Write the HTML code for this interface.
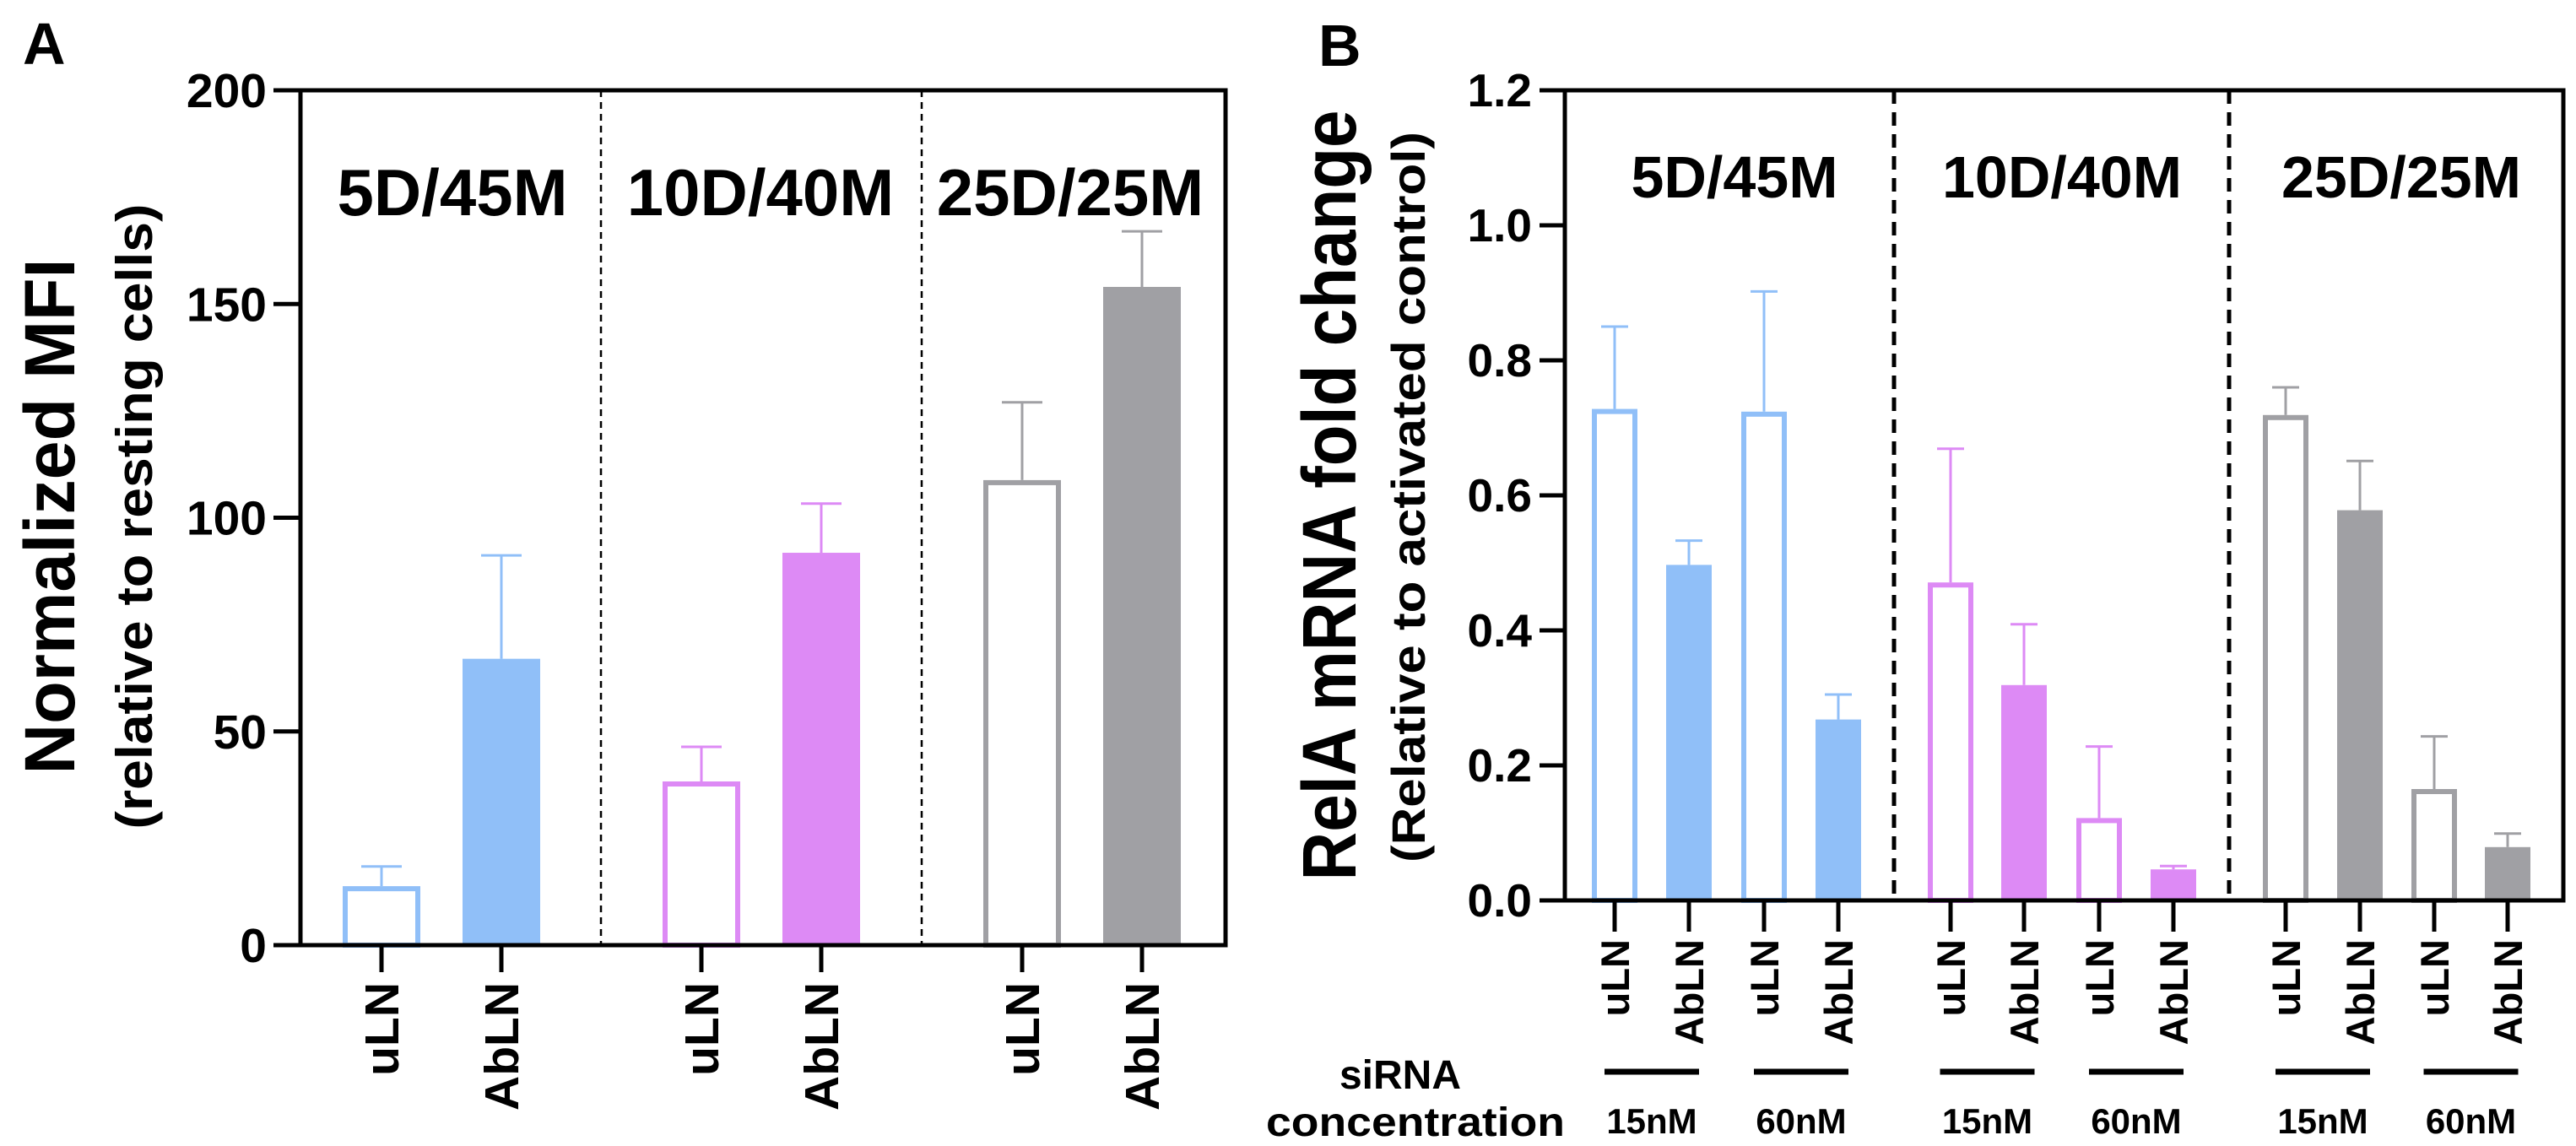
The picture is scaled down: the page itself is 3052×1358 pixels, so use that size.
<!DOCTYPE html>
<html><head><meta charset="utf-8">
<style>html,body{margin:0;padding:0;background:#fff}svg{display:block}text{font-family:"Liberation Sans",Arial,sans-serif;font-weight:bold;fill:#000}</style>
</head><body>
<svg id="fig" width="3052" height="1358" viewBox="0 0 3052 1358" xmlns="http://www.w3.org/2000/svg">
<g id="pa"></g>
<g id="pb"></g>
</svg>
<script>
// Panel A data
const aCats = ["uLN","AbLN","uLN","AbLN","uLN","AbLN"];
const aVals = [13.8, 67, 38.3, 91.8, 108.8, 154];
const aErr  = [18.4, 91.2, 46.4, 103.3, 127, 167];
const aFill = [false,true,false,true,false,true];
const aGroupIdx = [0,0,1,1,2,2];
const aTicks = [0,50,100,150,200];
const aGroups = ["5D/45M","10D/40M","25D/25M"];
// Panel B data
const bCats = ["uLN","AbLN","uLN","AbLN","uLN","AbLN","uLN","AbLN","uLN","AbLN","uLN","AbLN"];
const bVals = [0.728,0.497,0.724,0.268,0.471,0.319,0.122,0.046,0.719,0.578,0.165,0.079];
const bErr  = [0.850,0.533,0.902,0.305,0.669,0.409,0.228,0.051,0.760,0.651,0.243,0.099];
const bFill = [false,true,false,true,false,true,false,true,false,true,false,true];
const bGroupIdx = [0,0,0,0,1,1,1,1,2,2,2,2];
const bTicks = [0,0.2,0.4,0.6,0.8,1.0,1.2];
const bTickLabels = ["0.0","0.2","0.4","0.6","0.8","1.0","1.2"];
const bGroups = ["5D/45M","10D/40M","25D/25M"];
const bConc = ["15nM","60nM","15nM","60nM","15nM","60nM"];

const colors = ["#90bff8","#dd8af5","#a0a0a4"];
const NS = "http://www.w3.org/2000/svg";
function el(parent, tag, attrs, txt){const e=document.createElementNS(NS,tag);for(const k in attrs)e.setAttribute(k,attrs[k]);if(txt!==undefined)e.textContent=txt;parent.appendChild(e);return e;}

// ---------- Panel A ----------
(function(){
const g=document.getElementById('pa');
const L=356,R=1452,T=107,B=1120, ymax=200;
const y=v=>B-(v/ymax)*(B-T);
const centers=[452,594,831,973,1211,1353]; // band positions
const bw=92;
let t=el(g,'text',{x:27,y:76,'font-size':70});t.textContent='A';

// y title
t=el(g,'text',{transform:'translate(88,612) rotate(-90)','text-anchor':'middle','font-size':84,textLength:611,lengthAdjust:'spacingAndGlyphs'},'Normalized MFI');

t=el(g,'text',{transform:'translate(180,612) rotate(-90)','text-anchor':'middle','font-size':60,textLength:741,lengthAdjust:'spacingAndGlyphs'},'(relative to resting cells)');

aTicks.forEach(v=>{
  const l=el(g,'line',{x1:324,x2:L,y1:y(v),y2:y(v),stroke:'#000','stroke-width':5});
  
  const tx=el(g,'text',{x:316,y:y(v)+20,'text-anchor':'end','font-size':57},String(v));
  
});
[712,1092].forEach(x=>{const d=el(g,'line',{x1:x,x2:x,y1:T,y2:B,stroke:'#000','stroke-width':2.5,'stroke-dasharray':'8,6'});
});
const gc=[536,901,1268];
aGroups.forEach((s,i)=>{const tx=el(g,'text',{x:gc[i],y:255,'text-anchor':'middle','font-size':78},s);
});
aVals.forEach((v,i)=>{
  const c=colors[aGroupIdx[i]], x=centers[i];
  const e=el(g,'line',{x1:x,x2:x,y1:y(aErr[i]),y2:y(v),stroke:c,'stroke-width':3});
  
  const cap=el(g,'line',{x1:x-24,x2:x+24,y1:y(aErr[i]),y2:y(aErr[i]),stroke:c,'stroke-width':3});
  
  let r;
  if(aFill[i]) r=el(g,'rect',{x:x-bw/2,y:y(v),width:bw,height:B-y(v),fill:c});
  else r=el(g,'rect',{x:x-bw/2+3,y:y(v)+3,width:bw-6,height:B-y(v)-3,fill:'#fff',stroke:c,'stroke-width':6});
  
  const tk=el(g,'line',{x1:x,x2:x,y1:B,y2:1152,stroke:'#000','stroke-width':5});
  
  const lb=el(g,'text',{transform:`translate(${x+20},1164) rotate(-90)`,'text-anchor':'end','font-size':57},aCats[i]);
  
});
const fr=el(g,'rect',{x:L,y:T,width:R-L,height:B-T,fill:'none',stroke:'#000','stroke-width':5});

})();

// ---------- Panel B ----------
(function(){
const g=document.getElementById('pb');
const L=1854,R=3037,T=107,B=1067, ymax=1.2;
const y=v=>B-(v/ymax)*(B-T);
const centers=[1913,2001,2090,2178,2311,2398,2487,2575,2708,2796,2884,2971];
const bw=54;
let t=el(g,'text',{x:1562,y:78,'font-size':70});t.textContent='B';

t=el(g,'text',{transform:'translate(1606,587) rotate(-90)','text-anchor':'middle','font-size':90,textLength:913,lengthAdjust:'spacingAndGlyphs'},'RelA mRNA fold change');

t=el(g,'text',{transform:'translate(1688,589) rotate(-90)','text-anchor':'middle','font-size':56,textLength:866,lengthAdjust:'spacingAndGlyphs'},'(Relative to activated control)');

bTicks.forEach((v,i)=>{
  const l=el(g,'line',{x1:1824,x2:L,y1:y(v),y2:y(v),stroke:'#000','stroke-width':5});
  
  const tx=el(g,'text',{x:1815,y:y(v)+19,'text-anchor':'end','font-size':55},bTickLabels[i]);
  
});
[2244,2641].forEach(x=>{const d=el(g,'line',{x1:x,x2:x,y1:T,y2:B,stroke:'#000','stroke-width':5,'stroke-dasharray':'16,10'});
});
const gc=[2055,2443,2845];
bGroups.forEach((s,i)=>{const tx=el(g,'text',{x:gc[i],y:234,'text-anchor':'middle','font-size':70},s);
});
bVals.forEach((v,i)=>{
  const c=colors[bGroupIdx[i]], x=centers[i];
  const e=el(g,'line',{x1:x,x2:x,y1:y(bErr[i]),y2:y(v),stroke:c,'stroke-width':3});
  
  const cap=el(g,'line',{x1:x-16,x2:x+16,y1:y(bErr[i]),y2:y(bErr[i]),stroke:c,'stroke-width':3});
  
  let r;
  if(bFill[i]) r=el(g,'rect',{x:x-bw/2,y:y(v),width:bw,height:B-y(v),fill:c});
  else r=el(g,'rect',{x:x-bw/2+3,y:y(v)+3,width:bw-6,height:B-y(v)-3,fill:'#fff',stroke:c,'stroke-width':6});
  
  const tk=el(g,'line',{x1:x,x2:x,y1:B,y2:1104,stroke:'#000','stroke-width':5});
  
  const lb=el(g,'text',{transform:`translate(${x+17},1113) rotate(-90)`,'text-anchor':'end','font-size':47},bCats[i]);
  
});
bConc.forEach((s,k)=>{
  const mid=(centers[2*k]+centers[2*k+1])/2;
  const ln=el(g,'line',{x1:mid-56,x2:mid+56,y1:1270,y2:1270,stroke:'#000','stroke-width':7});
  
  const tx=el(g,'text',{x:mid,y:1343,'text-anchor':'middle','font-size':42},s);
  
});
t=el(g,'text',{x:1659,y:1290,'text-anchor':'middle','font-size':48},'siRNA');

t=el(g,'text',{x:1500,y:1346,'font-size':48,textLength:354,lengthAdjust:'spacingAndGlyphs'},'concentration');

const fr=el(g,'rect',{x:L,y:T,width:R-L,height:B-T,fill:'none',stroke:'#000','stroke-width':5});

})();
</script>
</body></html>
